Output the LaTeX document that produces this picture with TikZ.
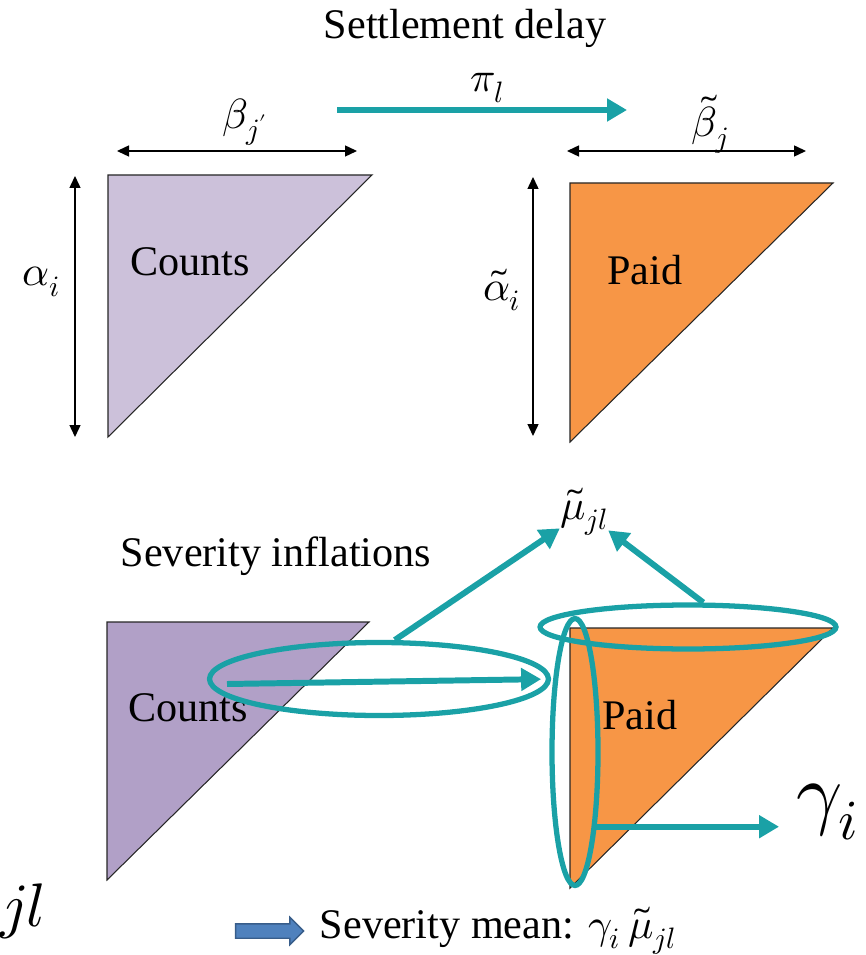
\documentclass[tikz,border=0pt]{standalone}
\usepackage{amsmath}
\usepackage{fontspec}
\usepackage{unicode-math}
\setmainfont{Liberation Serif}
\setmathfont{Latin Modern Math}
\usepackage{tikz}
\usetikzlibrary{positioning,arrows.meta,shapes.geometric,shapes.arrows}
\definecolor{cntlight}{HTML}{CCC1DA}
\definecolor{cntdark}{HTML}{B1A0C7}
\definecolor{paidorange}{HTML}{F79646}
\definecolor{flowteal}{HTML}{1AA1A6}
\definecolor{meanblue}{HTML}{4F81BD}
\definecolor{meanedge}{HTML}{385D8A}
\tikzset{
  tri/.style={draw=black!85, line width=0.6pt},
  lbl/.style={inner sep=0pt, font=\fontsize{24}{28}\selectfont},
  biglbl/.style={inner sep=0pt, font=\fontsize{46}{50}\selectfont},
  dimarr/.style={{Triangle[length=2.4mm,width=2.2mm]}-{Triangle[length=2.4mm,width=2.2mm]}, line width=0.8pt},
  flowarr/.style={-{Triangle[length=4mm,width=4.4mm]}, draw=flowteal, line width=3.4pt},
  ring/.style={ellipse, draw=flowteal, line width=3pt, inner sep=0pt},
  meanarr/.style={single arrow, draw=meanedge, fill=meanblue, line width=0.8pt, inner xsep=0pt, inner ysep=0.13cm,
    minimum height=1.36cm, single arrow head extend=0.13cm}
}

\begin{document}
\begin{tikzpicture}[x=0.02cm, y=-0.02cm]
  \useasboundingbox (0,0) rectangle (865,955);
  \node[lbl] (settle) at (465,28) {Settlement delay};
  \coordinate (pistart) at (337,110);
  \coordinate (piend) at (627,110);
  \draw[flowarr] (pistart) -- (piend);
  \node[lbl] (pi) at (487,88) {$\pi_l$};
  \draw[tri, fill=cntlight] (108,175) -- (372,175) -- (108,437) -- cycle;
  \node[lbl] (counts1) at (190,262) {Counts};
  \coordinate (bl) at (117,151);
  \coordinate (br) at (357,151);
  \draw[dimarr] (bl) -- (br);
  \node[lbl] (beta) at (245,122) {$\beta_{j'}$};
  \coordinate (at) at (75,176);
  \coordinate (ab) at (75,437);
  \draw[dimarr] (at) -- (ab);
  \node[lbl] (alpha) at (42,282) {$\alpha_i$};
  \draw[tri, fill=paidorange] (570,183) -- (833,183) -- (570,442) -- cycle;
  \node[lbl] (paid1) at (645,270) {Paid};
  \coordinate (tbl) at (567,151);
  \coordinate (tbr) at (806,151);
  \draw[dimarr] (tbl) -- (tbr);
  \node[lbl] (tbeta) at (710,124) {$\tilde\beta_j$};
  \coordinate (tat) at (533,177);
  \coordinate (tab) at (533,436);
  \draw[dimarr] (tat) -- (tab);
  \node[lbl] (talpha) at (502,290) {$\tilde\alpha_i$};
  \node[lbl] (mu) at (584,512) {$\widetilde{\mu}_{jl}$};
  \node[lbl] (sevinf) at (276,556) {Severity inflations};
  \draw[tri, fill=cntdark] (107,622) -- (369,622) -- (107,880) -- cycle;
  \node[lbl] (counts2) at (188,708) {Counts};
  \draw[tri, fill=paidorange] (570,628) -- (833,628) -- (570,888) -- cycle;
  \node[lbl] (paid2) at (640,715) {Paid};
  \node[ring, minimum width=6.78cm, minimum height=1.46cm] (lring) at (379,679) {};
  \node[ring, minimum width=5.92cm, minimum height=0.88cm] (tring) at (688,627) {};
  \node[ring, minimum width=0.92cm, minimum height=5.34cm] (vring) at (575,752) {};
  \coordinate (cin) at (227,684);
  \draw[flowarr, shorten >=2mm] (cin) -- (lring.east);
  \draw[flowarr] (lring.68) -- (mu);
  \draw[flowarr] (tring.58) -- (mu);
  \node[biglbl] (gam) at (828,812) {$\gamma_i$};
  \draw[flowarr, shorten >=3.5mm] (vring.-74) -- (vring.-74 -| gam.west);
  \node[biglbl, font=\fontsize{50}{54}\selectfont, anchor=base east] (mucut) at (46,905) {$\widetilde{\mu}_{jl}$};
  \node[meanarr] (sevarr) at (266,931) {};
  \node[lbl, right=0.3cm of sevarr] (sevmean) {Severity mean: $\gamma_i\,\widetilde{\mu}_{jl}$};
\end{tikzpicture}
\end{document}
